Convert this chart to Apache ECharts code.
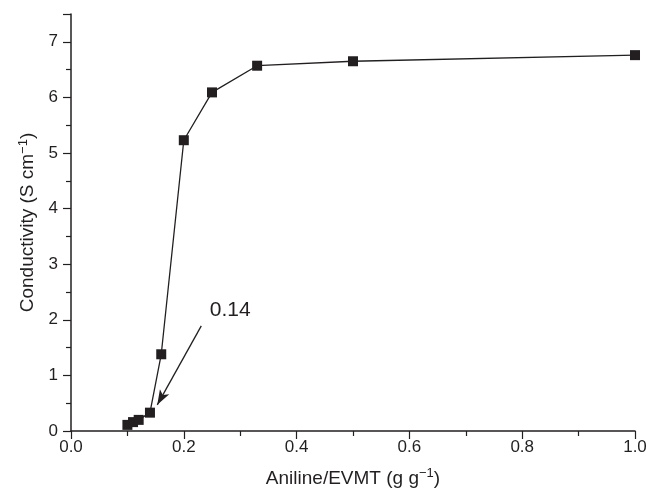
<!DOCTYPE html>
<html>
<head>
<meta charset="utf-8">
<script src="https://cdn.jsdelivr.net/npm/echarts@6/dist/echarts.min.js"></script>
<style>
  html, body { margin: 0; padding: 0; background: #fff; }
  #chart { width: 651px; height: 495px; }
</style>
</head>
<body>
<div id="chart"></div>
<script>
// Aniline/EVMT ratio (g g^-1) and measured conductivity (S cm^-1)
const ratio = [0.10, 0.11, 0.12, 0.14, 0.16, 0.20, 0.25, 0.33, 0.50, 1.00];
const conductivity = [0.11, 0.16, 0.20, 0.33, 1.38, 5.23, 6.09, 6.57, 6.65, 6.76];

// Percolation threshold callout
const calloutText = '0.14';
const calloutArrowFrom = [0.231, 1.89];
const calloutArrowTo = [0.153, 0.47];
const calloutTextAt = [0.246, 2.18];

const FONT = 'Liberation Sans, Arial, sans-serif';
const INK = '#231f20';

const chart = echarts.init(document.getElementById('chart'), null, { renderer: 'canvas' });

const supStyle = { fontFamily: FONT, fontSize: 13, color: INK, verticalAlign: 'top', padding: [0, 0, 10, 0] };

const option = {
  backgroundColor: '#ffffff',
  animation: false,
  grid: { left: 71, right: 16, top: 14, bottom: 64 },
  xAxis: {
    type: 'value',
    min: 0, max: 1, interval: 0.2,
    name: 'Aniline/EVMT (g g{sup|−1})',
    nameLocation: 'middle',
    nameGap: 36,
    nameTextStyle: { fontFamily: FONT, fontSize: 19, color: INK, rich: { sup: supStyle } },
    axisLine: { onZero: false, lineStyle: { color: INK, width: 1.5 } },
    axisTick: { inside: false, length: 8, lineStyle: { color: INK, width: 1.2 } },
    minorTick: { show: true, splitNumber: 2, length: 5, lineStyle: { color: INK, width: 1.2 } },
    axisLabel: {
      fontFamily: FONT, fontSize: 17, color: INK, margin: 8,
      formatter: v => v.toFixed(1)
    },
    splitLine: { show: false }
  },
  yAxis: {
    type: 'value',
    min: 0, max: 7.5, interval: 1,
    name: 'Conductivity (S cm{sup|−1})',
    nameLocation: 'middle',
    nameGap: 30,
    nameRotate: 90,
    nameTextStyle: { fontFamily: FONT, fontSize: 19, color: INK, rich: { sup: supStyle } },
    axisLine: { onZero: false, lineStyle: { color: INK, width: 1.5 } },
    axisTick: { inside: false, length: 8, lineStyle: { color: INK, width: 1.2 } },
    minorTick: { show: true, splitNumber: 2, length: 5, lineStyle: { color: INK, width: 1.2 } },
    axisLabel: {
      fontFamily: FONT, fontSize: 17, color: INK, margin: 13,
      showMaxLabel: false
    },
    splitLine: { show: false }
  },
  series: [{
    type: 'line',
    data: ratio.map((x, i) => [x, conductivity[i]]),
    symbol: 'rect',
    symbolSize: 10,
    showAllSymbol: true,
    lineStyle: { color: INK, width: 1.3 },
    itemStyle: { color: INK },
    z: 3,
    markLine: {
      silent: true,
      symbol: ['none', 'arrow'],
      symbolSize: [8, 15],
      lineStyle: { color: INK, width: 1.3, type: 'solid' },
      label: { show: false },
      data: [[
        { coord: calloutArrowFrom },
        { coord: calloutArrowTo }
      ]]
    }
  }]
};

chart.setOption(option);

// Place the callout label in data coordinates
const textPos = chart.convertToPixel({ gridIndex: 0 }, calloutTextAt);
chart.setOption({
  graphic: [{
    type: 'text',
    x: textPos[0],
    y: textPos[1],
    style: {
      text: calloutText,
      fontFamily: FONT,
      fontSize: 21,
      fill: INK,
      textAlign: 'left',
      textVerticalAlign: 'middle'
    }
  }]
});
</script>
</body>
</html>
